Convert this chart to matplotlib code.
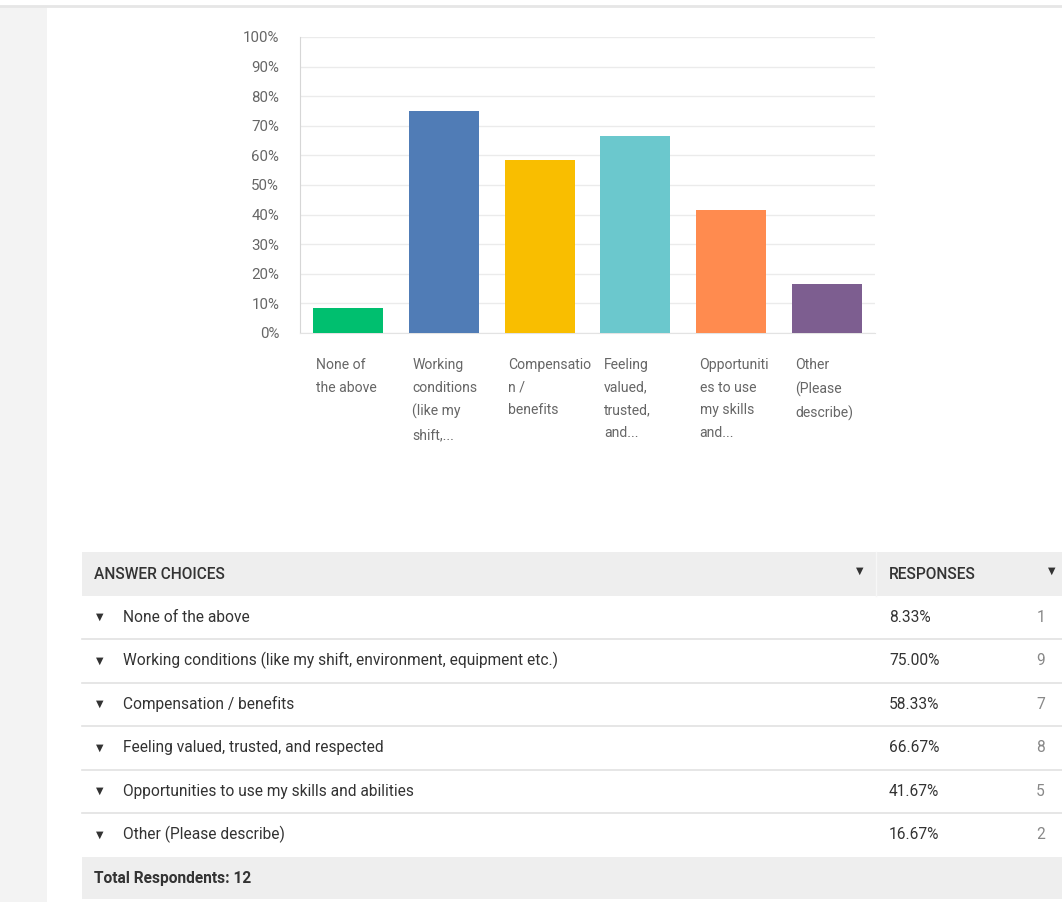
import matplotlib.pyplot as plt
from matplotlib.patches import Rectangle
import matplotlib.transforms as mtransforms

# survey results
answers = [
    'None of the above',
    'Working conditions (like my shift, environment, equipment etc.)',
    'Compensation / benefits',
    'Feeling valued, trusted, and respected',
    'Opportunities to use my skills and abilities',
    'Other (Please describe)',
]
short_labels = [
    'None of\nthe above',
    'Working\nconditions\n(like my\nshift,...',
    'Compensatio\nn /\nbenefits',
    'Feeling\nvalued,\ntrusted,\nand...',
    'Opportuniti\nes to use\nmy skills\nand...',
    'Other\n(Please\ndescribe)',
]
percents = [8.33, 75.00, 58.33, 66.67, 41.67, 16.67]
counts = [1, 9, 7, 8, 5, 2]
total_respondents = 12
bar_colors = ['#00bf6f', '#507cb6', '#f9be00', '#6bc8cd', '#ff8b4f', '#7d5e90']

plt.rcParams['font.family'] = ['Roboto', 'DejaVu Sans']

W, H = 1062, 902
fig = plt.figure(figsize=(W / 100, H / 100), dpi=100)
fig.patch.set_facecolor('white')

# page background in pixel coordinates
bg = fig.add_axes([0, 0, 1, 1])
bg.set_xlim(0, W)
bg.set_ylim(H, 0)
bg.axis('off')
bg.add_patch(Rectangle((0, 7), 47, H - 7, color='#f3f3f3', lw=0))
bg.plot([0, W], [6, 6], color='#e6e6e6', lw=2)

# bar chart
ax = fig.add_axes([300 / W, 1 - 333 / H, 575 / W, 296 / H])
x = list(range(len(percents)))
ax.bar(x, percents, width=0.73, color=bar_colors, zorder=3)
ax.set_xlim(-0.5, len(percents) - 0.5)
ax.set_ylim(0, 100)
ax.set_yticks(range(0, 101, 10))
ax.set_yticklabels([f'{v}%' for v in range(0, 101, 10)], color='#666666', fontsize=10.8)
ax.tick_params(axis='y', length=0, pad=15)
ax.set_xticks([])
ax.grid(axis='y', color='#ebebeb', lw=1, zorder=0)
for s in ['top', 'right']:
    ax.spines[s].set_visible(False)
ax.spines['left'].set_color('#d6d6d6')
ax.spines['bottom'].set_color('#e3e3e3')

trans = mtransforms.blended_transform_factory(ax.transData, ax.transAxes)
for i, lab in enumerate(short_labels):
    ax.text(i - 0.33, -0.085, lab, transform=trans, ha='left', va='top',
            fontsize=10.1, color='#666666', linespacing=1.78)

# response table
row_h = 43.5
top = 552
left = 82
fs = 11.2
bg.add_patch(Rectangle((left, top), W - left, row_h, color='#eeeeee', lw=0))
bg.plot([876, 876], [top, top + row_h], color='#f7f7f7', lw=1)
bg.text(94, top + row_h / 2 + 1, 'ANSWER CHOICES', fontsize=fs, color='#333333',
        va='center', fontweight='medium')
bg.text(889, top + row_h / 2 + 1, 'RESPONSES', fontsize=fs, color='#333333',
        va='center', fontweight='medium')
bg.text(860, top + row_h / 2 - 3, '\u25BC', fontsize=7, color='#333333', va='center', ha='center')
bg.text(1052, top + row_h / 2 - 3, '\u25BC', fontsize=7, color='#333333', va='center', ha='center')

for i, (ans, pct, cnt) in enumerate(zip(answers, percents, counts)):
    y0 = top + row_h * (i + 1)
    yc = y0 + row_h / 2
    bg.text(100, yc, '\u25BC', fontsize=7, color='#333333', va='center', ha='center')
    bg.text(123, yc, ans, fontsize=fs, color='#333333', va='center')
    bg.text(889, yc, f'{pct:.2f}%', fontsize=fs, color='#333333', va='center')
    bg.text(1045, yc, str(cnt), fontsize=fs, color='#888888', va='center', ha='right')
    if i < len(answers) - 1:
        bg.plot([left, W], [y0 + row_h, y0 + row_h], color='#e2e2e2', lw=1.2)

y_tot = top + row_h * (len(answers) + 1)
bg.add_patch(Rectangle((left, y_tot), W - left, row_h - 1, color='#eeeeee', lw=0))
bg.text(94, y_tot + row_h / 2, f'Total Respondents: {total_respondents}', fontsize=fs,
        color='#333333', va='center', fontweight='bold')

fig.savefig('out.png', dpi=100)
